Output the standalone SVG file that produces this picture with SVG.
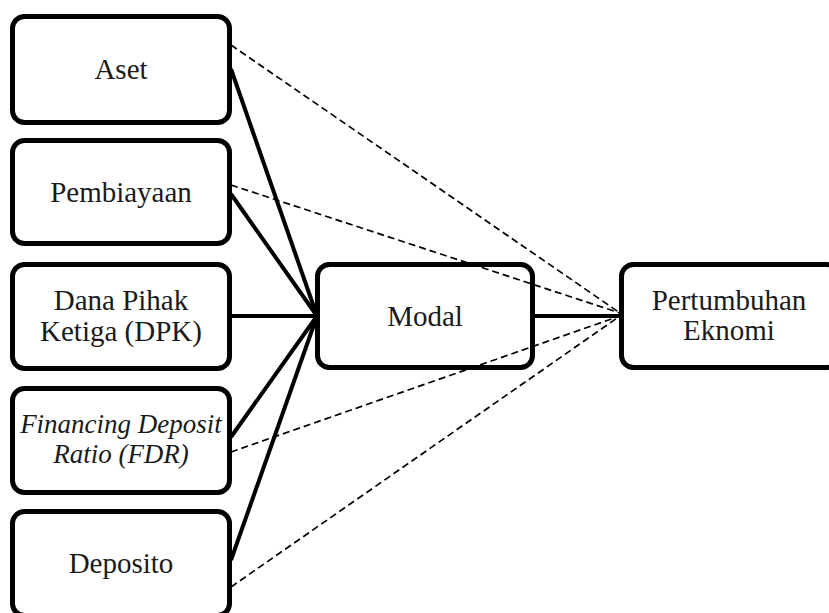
<svg xmlns="http://www.w3.org/2000/svg" width="829" height="613" viewBox="0 0 829 613">
<style>
.box{fill:#fff;stroke:#000;stroke-width:5;}
.t{font-family:"Liberation Serif","Times New Roman",serif;font-size:29px;fill:#1a1a1a;text-anchor:middle;}
.it{font-style:italic;font-size:27px;}
.solid{stroke:#000;stroke-width:4;fill:none;}
.dash{stroke:#000;stroke-width:1.7;fill:none;stroke-dasharray:7,4;}
</style>
<rect width="829" height="613" fill="#fff"/>
<g id="aset">
<rect class="box" x="12.5" y="16.5" width="217" height="106" rx="12"/>
<text class="t" x="121" y="79">Aset</text>
</g>
<g id="pembiayaan">
<rect class="box" x="12.5" y="140.5" width="217" height="103" rx="12"/>
<text class="t" x="121" y="202">Pembiayaan</text>
</g>
<g id="dpk">
<rect class="box" x="12.5" y="264.5" width="217" height="104" rx="12"/>
<text class="t" x="121" y="310">Dana Pihak</text>
<text class="t" x="121" y="341">Ketiga (DPK)</text>
</g>
<g id="fdr">
<rect class="box" x="12.5" y="388.5" width="217" height="104" rx="12"/>
<text class="t it" x="121" y="433">Financing Deposit</text>
<text class="t it" x="121" y="463">Ratio (FDR)</text>
</g>
<g id="deposito">
<rect class="box" x="12.5" y="511.5" width="217" height="104" rx="12"/>
<text class="t" x="121" y="573">Deposito</text>
</g>
<g id="modal">
<rect class="box" x="317.5" y="264.5" width="215" height="103" rx="12"/>
<text class="t" x="425" y="326">Modal</text>
</g>
<g id="pertumbuhan">
<rect class="box" x="621.5" y="264.5" width="217" height="103" rx="12"/>
<text class="t" x="729" y="310">Pertumbuhan</text>
<text class="t" x="729" y="340">Eknomi</text>
</g>
<g id="connectors">
<line class="dash" x1="231" y1="45" x2="620" y2="313"/>
<line class="dash" x1="231" y1="185" x2="620" y2="313"/>
<line class="dash" x1="231" y1="452" x2="620" y2="316"/>
<line class="dash" x1="231" y1="587" x2="620" y2="316"/>
<line class="solid" x1="231" y1="69" x2="317" y2="316"/>
<line class="solid" x1="231" y1="194" x2="317" y2="316"/>
<line class="solid" x1="231" y1="316" x2="317" y2="316"/>
<line class="solid" x1="231" y1="437" x2="317" y2="316"/>
<line class="solid" x1="231" y1="560" x2="317" y2="316"/>
<line class="solid" x1="533" y1="316" x2="621" y2="316"/>
</g>
</svg>
